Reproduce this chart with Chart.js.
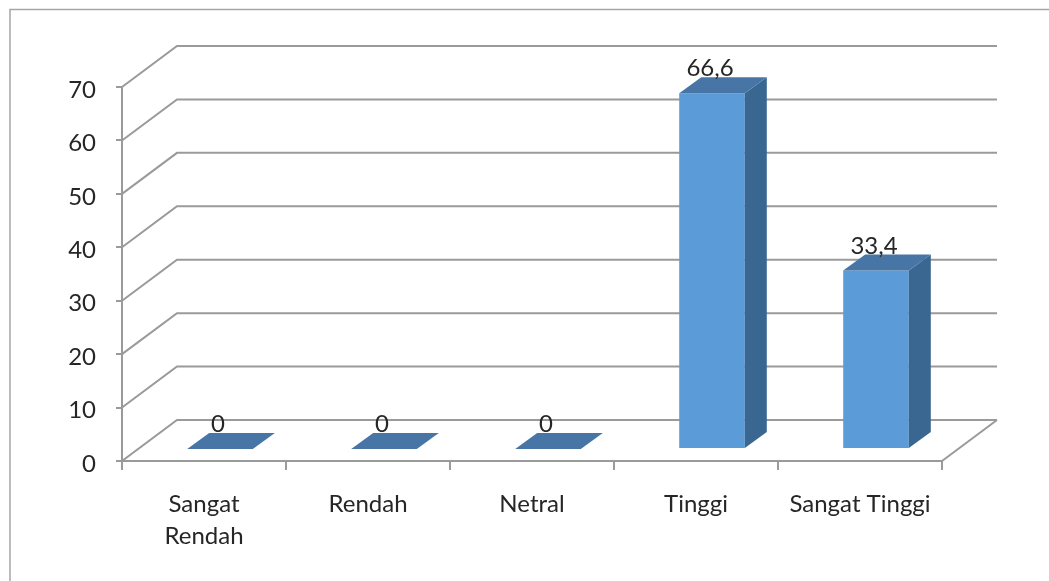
<!DOCTYPE html>
<html>
<head>
<meta charset="utf-8">
<script src="https://cdn.jsdelivr.net/npm/chart.js@4.4.1/dist/chart.umd.min.js"></script>
<style>
  html, body { margin: 0; padding: 0; background: #fff; overflow: hidden; }
  canvas { display: block; }
</style>
</head>
<body>
<canvas id="myChart" width="1049" height="581"></canvas>
<script>
var categories = [['Sangat', 'Rendah'], 'Rendah', 'Netral', 'Tinggi', 'Sangat Tinggi'];
var values = [0, 0, 0, 66.6, 33.4];
var valueLabels = ['0', '0', '0', '66,6', '33,4'];
var yMin = 0;
var yMax = 70;
var yStep = 10;

var gridColor = '#9a9a9a';
var textColor = '#262626';
var wall = { dx: 55, dy: -41 };    // back wall offset
var shift = { dx: 16, dy: -12 };   // bar front face offset from front plane
var depth = { dx: 22, dy: -16 };   // bar depth

var threeD = {
    id: 'threeD',
    beforeDraw: function(chart) {
        var ctx = chart.ctx;
        ctx.save();
        ctx.fillStyle = '#fff';
        ctx.fillRect(0, 0, chart.width, chart.height);
        ctx.strokeStyle = '#a6a6a6';
        ctx.lineWidth = 1.5;
        ctx.beginPath();
        ctx.moveTo(10, chart.height + 2);
        ctx.lineTo(10, 9.5);
        ctx.lineTo(chart.width + 2, 9.5);
        ctx.stroke();
        ctx.restore();
    },
    beforeDatasetsDraw: function(chart) {
        var ctx = chart.ctx;
        var a = chart.chartArea;
        var y = chart.scales.y;
        ctx.save();
        ctx.strokeStyle = gridColor;
        ctx.lineWidth = 2;
        y.ticks.forEach(function(t) {
            var py = y.getPixelForValue(t.value);
            ctx.beginPath();
            ctx.moveTo(a.left, py);
            ctx.lineTo(a.left + wall.dx, py + wall.dy);
            ctx.lineTo(a.right + wall.dx, py + wall.dy);
            ctx.stroke();
        });
        // right floor edge
        var base = y.getPixelForValue(0);
        ctx.beginPath();
        ctx.moveTo(a.right, base);
        ctx.lineTo(a.right + wall.dx, base + wall.dy);
        ctx.stroke();
        ctx.restore();
        // shift front faces into depth
        ctx.save();
        ctx.translate(shift.dx, shift.dy);
    },
    afterDatasetsDraw: function(chart) {
        var ctx = chart.ctx;
        ctx.restore();
        var meta = chart.getDatasetMeta(0);
        ctx.save();
        meta.data.forEach(function(el, i) {
            var l = el.x - el.width / 2 + shift.dx;
            var r = el.x + el.width / 2 + shift.dx;
            var top = el.y + shift.dy;
            var bot = el.base + shift.dy;
            // side
            if (bot - top > 0.5) {
                ctx.fillStyle = '#3a6791';
                ctx.beginPath();
                ctx.moveTo(r, bot);
                ctx.lineTo(r, top);
                ctx.lineTo(r + depth.dx, top + depth.dy);
                ctx.lineTo(r + depth.dx, bot + depth.dy);
                ctx.closePath();
                ctx.fill();
            }
            // top
            ctx.fillStyle = '#4776a6';
            ctx.beginPath();
            ctx.moveTo(l, top);
            ctx.lineTo(r, top);
            ctx.lineTo(r + depth.dx, top + depth.dy);
            ctx.lineTo(l + depth.dx, top + depth.dy);
            ctx.closePath();
            ctx.fill();
            // label
            ctx.fillStyle = textColor;
            ctx.font = '24px Lato';
            ctx.textAlign = 'center';
            ctx.textBaseline = 'alphabetic';
            ctx.fillText(valueLabels[i], el.x + shift.dx - 2, top + depth.dy - 1);
        });
        ctx.restore();
    }
};

new Chart(document.getElementById('myChart'), {
    type: 'bar',
    data: {
        labels: categories,
        datasets: [{
            data: values,
            backgroundColor: '#5b9bd7',
            borderWidth: 0,
            barPercentage: 0.4,
            categoryPercentage: 1
        }]
    },
    options: {
        responsive: false,
        animation: false,
        devicePixelRatio: 1,
        layout: { padding: { left: 0, right: 107, top: 87, bottom: 0 } },
        plugins: { legend: { display: false }, tooltip: { enabled: false } },
        scales: {
            x: {
                grid: { drawOnChartArea: false, tickLength: 9, color: gridColor, lineWidth: 2, offset: true },
                border: { color: gridColor, width: 2 },
                ticks: { color: textColor, font: { family: 'Lato', size: 24, lineHeight: 1.3 }, padding: 19, maxRotation: 0 },
                afterFit: function(s) { s.height = 120; }
            },
            y: {
                min: yMin,
                max: yMax,
                ticks: { stepSize: yStep, color: textColor, font: { family: 'Lato', size: 24 }, padding: 20, labelOffset: 3 },
                grid: { drawOnChartArea: false, tickLength: 6, color: gridColor, lineWidth: 2 },
                border: { color: gridColor, width: 2 },
                afterFit: function(s) { s.width = 122; }
            }
        }
    },
    plugins: [threeD]
});
</script>
</body>
</html>
